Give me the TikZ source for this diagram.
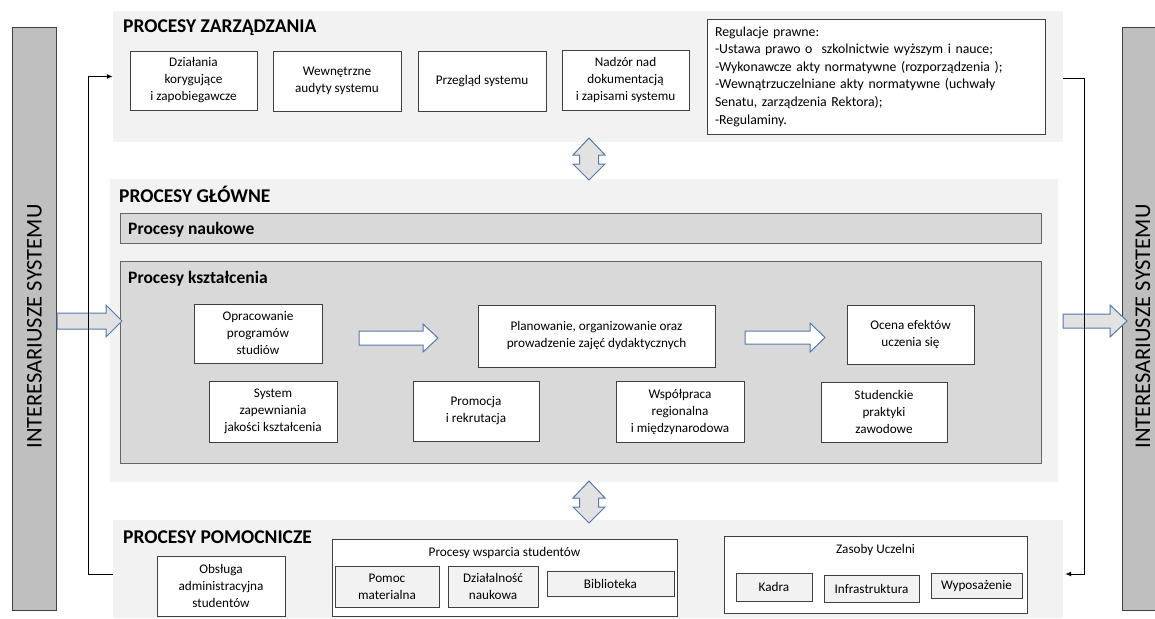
\documentclass[tikz,border=0pt]{standalone}
\usepackage{fontspec}
\setmainfont{Carlito}
\usetikzlibrary{calc,arrows.meta}
\definecolor{secbg}{HTML}{F2F2F2}
\definecolor{procbg}{HTML}{D9D9D9}
\definecolor{barbg}{HTML}{BFBFBF}
\definecolor{edge}{HTML}{404040}
\definecolor{arrblue}{HTML}{5577AD}
\definecolor{arrfill}{HTML}{E2E2E2}
\definecolor{conn}{HTML}{8C8C8C}
\tikzset{
  secbox/.style={fill=secbg, draw=none, inner sep=0pt},
  procbox/.style={fill=procbg, draw=edge!80, line width=0.9pt, inner sep=0pt},
  bar/.style={fill=barbg, draw=edge, line width=0.9pt, inner sep=0pt},
  box/.style={draw=edge, fill=white, line width=0.8pt, align=center, inner sep=1pt,
              font=\fontsize{13.2}{17}\selectfont},
  subbox/.style={box, fill=secbg},
  sectitle/.style={anchor=base west, inner sep=0pt, font=\fontsize{19.5}{22}\selectfont\bfseries},
  proctitle/.style={anchor=base west, inner sep=0pt, font=\fontsize{17.5}{20}\selectfont\bfseries},
  bartext/.style={rotate=90, inner sep=0pt, font=\fontsize{22.5}{26}\selectfont},
  plaintext/.style={inner sep=0pt, font=\fontsize{13.2}{17}\selectfont},
  blockarrow/.style={draw=arrblue, line width=1pt, line join=miter},
  connector/.style={draw=conn, line width=1pt, -{Latex[length=6pt,width=5pt]}, black}
}
\begin{document}
\begin{tikzpicture}[x=1pt,y=-1pt]
\useasboundingbox (0,0) rectangle (1155,618);

% side bars
\node[bar, minimum width=44pt, minimum height=583pt] (lbar) at (34,318.5) {};
\node[bartext] (ltext) at ($(lbar.center)+(0.5,8)$) {INTERESARIUSZE SYSTEMU};
\node[bar, minimum width=33pt, minimum height=583pt] (rbar) at (1139,318.5) {};
\node[bartext] (rtext) at ($(rbar.center)+(4,8)$) {INTERESARIUSZE SYSTEMU};

% section backgrounds
\node[secbox, minimum width=950pt, minimum height=131pt] (topbg) at (588,76.5) {};
\node[secbox, minimum width=948pt, minimum height=303pt] (mainbg) at (584,330.5) {};
\node[secbox, minimum width=950pt, minimum height=98pt] (botbg) at (588,569) {};

% titles
\node[sectitle] (t1) at (123,33) {PROCESY ZARZĄDZANIA};
\node[sectitle] (t2) at (119,202) {PROCESY GŁÓWNE};
\node[sectitle] (t3) at (123,543) {PROCESY POMOCNICZE};

% top boxes
\node[box, minimum width=127pt, minimum height=59pt] (kor) at (193.5,80.5) {Działania\\korygujące\\i zapobiegawcze};
\node[box, minimum width=128pt, minimum height=60pt] (aud) at (337,81) {Wewnętrzne\\audyty systemu};
\node[box, minimum width=128pt, minimum height=60pt] (prz) at (482,81) {Przegląd systemu};
\node[box, minimum width=127pt, minimum height=60pt] (nad) at (625.5,80) {Nadzór nad\\dokumentacją\\i zapisami systemu};
\node[box, align=left, text width=322pt, inner xsep=8pt, minimum height=115pt,
      font=\fontsize{13.8}{17.6}\selectfont] (reg) at (876,76.5)
 {Regulacje prawne:\\
  -Ustawa prawo o\ \ szkolnictwie wyższym i nauce;\\
  -Wykonawcze akty normatywne (rozporządzenia );\\
  -Wewnątrzuczelniane akty normatywne (uchwały\\
  Senatu, zarządzenia Rektora);\\
  -Regulaminy.};

% main inner
\node[procbox, minimum width=921pt, minimum height=30pt] (nauk) at (580.5,228) {};
\node[proctitle] (naukt) at (128,234) {Procesy naukowe};
\node[procbox, minimum width=921pt, minimum height=202pt] (ksz) at (580.5,362) {};
\node[proctitle] (kszt) at (128,283) {Procesy kształcenia};

\node[box, minimum width=128pt, minimum height=59pt] (opr) at (258,333.5) {Opracowanie\\programów\\studiów};
\node[box, minimum width=128pt, minimum height=61pt] (sys) at (273,411.5) {System\\zapewniania\\jakości kształcenia};
\node[box, minimum width=237pt, minimum height=62pt] (pla) at (596.5,336) {Planowanie, organizowanie oraz\\prowadzenie zajęć dydaktycznych};
\node[box, minimum width=126pt, minimum height=60pt] (pro) at (476,411) {Promocja\\i rekrutacja};
\node[box, minimum width=128pt, minimum height=61pt] (wsp) at (680,411.5) {Współpraca\\regionalna\\i międzynarodowa};
\node[box, minimum width=127pt, minimum height=59pt] (oce) at (910.5,334.5) {Ocena efektów\\uczenia się};
\node[box, minimum width=126pt, minimum height=60pt] (stu) at (884,412) {Studenckie\\praktyki\\zawodowe};

% bottom
\node[box, minimum width=128pt, minimum height=60pt] (obs) at (221,586) {Obsługa\\administracyjna\\studentów};
\node[box, minimum width=345pt, minimum height=77pt] (wspo) at (504.5,577.5) {};
\node[plaintext] (wspt) at (504.5,553) {Procesy wsparcia studentów};
\node[subbox, minimum width=104pt, minimum height=41pt] (pom) at (387,586.5) {Pomoc\\materialna};
\node[subbox, minimum width=90pt, minimum height=41pt] (dzi) at (493,586.5) {Działalność\\naukowa};
\node[subbox, minimum width=127pt, minimum height=25pt] (bib) at (610.5,583.5) {Biblioteka};
\node[box, minimum width=303pt, minimum height=77pt] (zas) at (875.5,574.5) {};
\node[plaintext] (zast) at (875.5,550) {Zasoby Uczelni};
\node[subbox, minimum width=76pt, minimum height=28pt] (kad) at (774,587) {Kadra};
\node[subbox, minimum width=95pt, minimum height=27pt] (inf) at (871.5,588.5) {Infrastruktura};
\node[subbox, minimum width=91pt, minimum height=25pt] (wyp) at (976.5,585.5) {Wyposażenie};

% block arrows
\filldraw[blockarrow, fill=arrfill] (57,313) -- (106,313) -- (106,305) -- (122,321) -- (106,337) -- (106,329) -- (57,329) -- cycle;
\filldraw[blockarrow, fill=arrfill] (1063,314) -- (1110,314) -- (1110,305) -- (1127,321) -- (1110,337) -- (1110,328) -- (1063,328) -- cycle;
\filldraw[blockarrow, fill=white] (359,331) -- (423,331) -- (423,324) -- (438,338) -- (423,352) -- (423,345) -- (359,345) -- cycle;
\filldraw[blockarrow, fill=white] (745,331) -- (810,331) -- (810,323) -- (825,337.5) -- (810,352) -- (810,344) -- (745,344) -- cycle;
\filldraw[blockarrow, fill=arrfill] (589,138) -- (605,155) -- (598.5,155) -- (598.5,164) -- (605,164) -- (589,180) -- (573,164) -- (579.5,164) -- (579.5,155) -- (573,155) -- cycle;
\filldraw[blockarrow, fill=arrfill] (589,481) -- (605,498) -- (598.5,498) -- (598.5,507) -- (605,507) -- (589,523) -- (573,507) -- (579.5,507) -- (579.5,498) -- (573,498) -- cycle;

% feedback connectors
\draw[connector] ($(botbg.west)+(0,5)$) -- ++(-24,0) |- (topbg.west);
\draw[connector] ($(topbg.east)+(0,2)$) -- ++(21,0) |- ($(botbg.east)+(2,5)$);
\end{tikzpicture}
\end{document}
